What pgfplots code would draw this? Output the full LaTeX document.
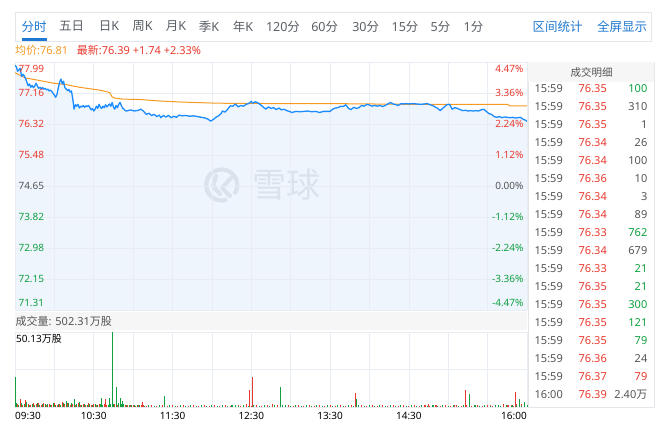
\documentclass[border=0pt]{standalone}
\usepackage{fontspec}
\setmainfont{Noto Sans}
\newfontfamily\cjk{Noto Sans CJK SC}
\usepackage{pgfplots}
\usepackage{pgfplotstable}
\pgfplotsset{compat=1.18}
\definecolor{tabblue}{HTML}{1F78D1}
\definecolor{tabgrey}{HTML}{5A5F66}
\definecolor{tabborder}{HTML}{E3E6EA}
\definecolor{upred}{HTML}{EA3A2E}
\definecolor{dngreen}{HTML}{10A040}
\definecolor{avgorange}{HTML}{F59A23}
\definecolor{lineblue}{HTML}{1A8CFF}
\definecolor{areafill}{HTML}{EEF5FD}
\definecolor{gridc}{HTML}{E8EDF3}
\definecolor{band}{HTML}{F6F6F6}
\definecolor{wm}{HTML}{DAE2EC}
\definecolor{txtgrey}{HTML}{555555}

\pgfplotstableread{
m p
0 77.90
1 77.86
2 77.74
3 77.78
4 77.82
5 77.60
6 77.66
7 77.62
8 77.55
9 77.45
10 77.35
11 77.40
12 77.31
13 77.36
14 77.30
15 77.34
16 77.42
17 77.35
18 77.28
19 77.31
20 77.27
21 77.30
22 77.26
23 77.28
24 77.24
25 77.26
26 77.21
27 77.23
28 77.20
29 77.15
30 77.10
31 77.04
32 77.12
33 77.30
34 77.45
35 77.53
36 77.40
37 77.47
38 77.30
39 77.26
40 77.22
41 77.25
42 77.18
43 77.21
44 77.00
45 76.72
46 76.84
47 76.80
48 76.85
49 76.75
50 76.80
51 76.78
52 76.82
53 76.77
54 76.81
55 76.79
56 76.82
57 76.76
58 76.70
59 76.74
60 76.67
61 76.72
62 76.80
63 76.74
64 76.85
65 76.78
66 76.74
67 76.80
68 76.76
69 76.84
70 76.78
71 76.82
72 76.86
73 76.80
74 76.90
75 76.78
76 76.72
77 76.82
78 76.76
79 76.85
80 76.90
81 76.82
82 76.75
83 76.72
84 76.68
85 76.67
88 76.70
91 76.67
94 76.69
96 76.72
98 76.66
100 76.58
102 76.61
104 76.55
106 76.58
108 76.52
110 76.56
111 76.49
113 76.55
115 76.51
117 76.55
119 76.49
121 76.53
123 76.50
125 76.56
127 76.54
130 76.55
133 76.53
136 76.54
139 76.52
142 76.50
145 76.48
147 76.45
149 76.40
151 76.44
153 76.50
155 76.54
157 76.60
158 76.67
160 76.64
162 76.72
164 76.81
166 76.80
168 76.86
170 76.78
172 76.82
174 76.80
176 76.85
178 76.87
180 76.93
181 76.88
183 76.92
185 76.89
187 76.84
189 76.78
191 76.72
193 76.78
195 76.74
197 76.76
199 76.71
201 76.75
203 76.70
205 76.72
207 76.68
209 76.66
211 76.63
214 76.66
217 76.65
220 76.66
223 76.67
226 76.65
229 76.66
232 76.63
235 76.66
238 76.66
240 76.66
242 76.72
244 76.75
246 76.76
248 76.80
250 76.79
252 76.84
254 76.74
256 76.71
258 76.77
260 76.74
262 76.76
264 76.82
266 76.80
268 76.85
270 76.83
272 76.80
274 76.82
276 76.80
278 76.82
280 76.79
282 76.82
284 76.86
286 76.90
288 76.86
290 76.84
292 76.82
294 76.87
296 76.86
298 76.87
300 76.86
303 76.87
306 76.86
309 76.85
312 76.86
314 76.87
316 76.84
318 76.82
320 76.78
322 76.74
324 76.68
325 76.72
327 76.78
329 76.84
331 76.85
333 76.72
335 76.76
337 76.74
339 76.71
341 76.68
343 76.69
345 76.67
347 76.68
349 76.67
351 76.68
353 76.67
355 76.70
357 76.72
359 76.66
361 76.60
363 76.58
365 76.52
367 76.50
369 76.52
371 76.49
373 76.51
375 76.50
377 76.49
379 76.50
381 76.48
383 76.49
385 76.50
387 76.45
389 76.42
390 76.39
}\price

\pgfplotstableread{
m a
0 77.70
8 77.56
19 77.49
29 77.42
39 77.38
49 77.31
65 77.23
72 77.17
74 77.05
76 77.02
82 76.99
95 76.98
110 76.94
128 76.91
154 76.88
200 76.87
240 76.87
270 76.86
300 76.85
375 76.85
377 76.81
390 76.81
}\avgp

\begin{document}
\begin{tikzpicture}[x=1pt,y=1pt]
\fill[white] (0,0) rectangle (656,-429);

% ---- tab bar
\draw[tabborder, line width=0.8pt] (15.7,-12.7) rectangle (651,-41);
\fill[tabblue] (21.7,-38.4) rectangle (47.3,-40.6);
\begin{scope}[every node/.style={font=\fontsize{12.5}{14}\selectfont, inner sep=0pt, text=tabgrey}]
\node[text=tabblue] at (34,-26.5) {\cjk 分时};
\node at (71.5,-26.5) {\cjk 五日};
\node at (109,-26.5) {{\cjk 日}K};
\node at (142.5,-26.5) {{\cjk 周}K};
\node at (176,-26.5) {{\cjk 月}K};
\node at (209,-26.5) {{\cjk 季}K};
\node at (243,-26.5) {{\cjk 年}K};
\node at (283,-26.5) {120{\cjk 分}};
\node at (324.7,-26.5) {60{\cjk 分}};
\node at (365.7,-26.5) {30{\cjk 分}};
\node at (405,-26.5) {15{\cjk 分}};
\node at (440.5,-26.5) {5{\cjk 分}};
\node at (473.5,-26.5) {1{\cjk 分}};
\node[text=tabblue] at (557.7,-26.5) {\cjk 区间统计};
\node[text=tabblue] at (622,-26.5) {\cjk 全屏显示};
\end{scope}

% ---- info row
\node[anchor=west, inner sep=0pt, font=\fontsize{11}{13}\selectfont, text=avgorange] at (15,-50.7) {{\cjk 均价}:76.81};
\node[anchor=west, inner sep=0pt, font=\fontsize{11}{13}\selectfont, text=upred] at (76.7,-50.7) {{\cjk 最新}:76.39 +1.74 +2.33\%};

% ---- price area fill
\begin{axis}[at={(15pt,-310pt)}, anchor=south west, scale only axis,
  width=512pt, height=248pt, xmin=0, xmax=390, ymin=71.31, ymax=77.99,
  axis line style={draw=none}, xtick=\empty, ytick=\empty]
\addplot[draw=none, fill=areafill] table[x=m, y=p] {\price} \closedcycle;
\end{axis}

% ---- watermark
\draw[wm, line width=4.2pt] (221.7,-185) ++(-35:15.5) arc[start angle=-35, end angle=290, radius=15.5];
\draw[wm, line width=4pt, line cap=round, line join=round] (216,-176) -- (213,-186) -- (220,-194);
\draw[wm, line width=4pt, line cap=round, line join=round] (231,-178) -- (222,-188) -- (230,-196);
\node[text=wm, font=\fontsize{34}{36}\selectfont\cjk, inner sep=0pt] at (286,-185) {雪球};

% ---- price lines
\begin{axis}[at={(15pt,-310pt)}, anchor=south west, scale only axis,
  width=512pt, height=248pt, xmin=0, xmax=390, ymin=71.31, ymax=77.99,
  axis line style={draw=none}, xtick={0,30,...,390},
  ytick={71.31,72.15,72.98,73.82,74.65,75.48,76.32,77.16,77.99},
  xticklabels={}, yticklabels={}, major tick length=0pt,
  grid=major, grid style={gridc, line width=0.6pt},
  every node/.append style={font=\fontsize{11}{13}\selectfont, inner sep=1pt}]
\addplot[avgorange, line width=1pt, mark=none] table[x=m, y=a] {\avgp};
\addplot[lineblue, line width=1.3pt, mark=none, line join=round] table[x=m, y=p] {\price};
\node[anchor=north west, text=upred] at (axis cs:0,77.99) {77.99};
\node[anchor=west, text=upred] at (axis cs:0,77.16) {77.16};
\node[anchor=west, text=upred] at (axis cs:0,76.32) {76.32};
\node[anchor=west, text=upred] at (axis cs:0,75.48) {75.48};
\node[anchor=west, text=txtgrey] at (axis cs:0,74.65) {74.65};
\node[anchor=west, text=dngreen] at (axis cs:0,73.82) {73.82};
\node[anchor=west, text=dngreen] at (axis cs:0,72.98) {72.98};
\node[anchor=west, text=dngreen] at (axis cs:0,72.15) {72.15};
\node[anchor=south west, text=dngreen] at (axis cs:0,71.31) {71.31};
\node[anchor=north east, text=upred] at (axis cs:390,77.99) {4.47\%};
\node[anchor=east, text=upred] at (axis cs:390,77.16) {3.36\%};
\node[anchor=east, text=upred] at (axis cs:390,76.32) {2.24\%};
\node[anchor=east, text=upred] at (axis cs:390,75.48) {1.12\%};
\node[anchor=east, text=txtgrey] at (axis cs:390,74.65) {0.00\%};
\node[anchor=east, text=dngreen] at (axis cs:390,73.82) {-1.12\%};
\node[anchor=east, text=dngreen] at (axis cs:390,72.98) {-2.24\%};
\node[anchor=east, text=dngreen] at (axis cs:390,72.15) {-3.36\%};
\node[anchor=south east, text=dngreen] at (axis cs:390,71.31) {-4.47\%};
\end{axis}

% ---- volume header band
\fill[band] (15,-312) rectangle (527,-330);
\node[anchor=west, inner sep=0pt, font=\fontsize{11}{13}\selectfont, text=txtgrey] at (15.5,-321) {{\cjk 成交量}: 502.31{\cjk 万股}};

% ---- volume
\begin{axis}[at={(15pt,-407pt)}, anchor=south west, scale only axis,
  width=512pt, height=75pt, xmin=0, xmax=390, ymin=0, ymax=50.13,
  axis line style={draw=none}, xtick={0,30,...,390}, ytick={0,25.065,50.13},
  xticklabels={}, yticklabels={}, major tick length=0pt,
  grid=major, grid style={gridc, line width=0.6pt}, clip=false,
  every node/.append style={font=\fontsize{11}{13}\selectfont, text=txtgrey}]
\addplot[ycomb, upred, line width=1pt, mark=none] coordinates {
(2,2.0)(4,5.3)(6,1.5)(8,5.0)(10,2.2)(12,1.6)(14,3.0)(16,1.8)(18,2.4)(20,1.5)(22,2.8)(24,1.4)(26,2.0)(28,1.6)(30,2.6)(32,1.4)(34,2.2)(36,3.4)(38,1.8)(40,2.5)(42,1.6)(44,2.0)(46,1.5)(48,2.4)(50,1.3)(52,2.0)(54,1.6)(56,2.8)(58,1.4)(60,1.8)(62,1.2)(64,2.0)(68,1.8)(69,5.5)(70,1.4)(76,2.0)(78,1.5)(84,1.4)(86,1.1)(88,1.6)(90,1.2)(92,1.0)(94,1.3)(96,1.1)(97,3.5)(98,1.2)
(196,2.0)(179,11.5)(181,20.3)(259,9.3)(315,2.2)(321,1.6)(343,11.5)(372,2.0)(381,10.0)(382,2.2)(386,2.0)(170,1.3)(176,1.8)(200,1.6)(313,1.5)(335,1.2)(362,1.4)(366,1.3)(375,1.6)(378,1.4)
(100,1.0)(104,1.2)(108,0.9)(112,1.1)(116,1.0)(120,1.2)(124,0.9)(128,1.1)(132,1.0)(136,1.2)(140,0.9)(144,1.1)(148,1.0)(152,1.2)(156,0.9)(160,1.1)(164,1.0)(168,1.2)(172,0.9)(176,1.1)(180,1.0)(184,1.2)(188,0.9)(192,1.1)(196,1.0)(200,1.2)(204,0.9)(208,1.1)(212,1.0)(216,1.2)(220,0.9)(224,1.1)(228,1.0)(232,1.2)(236,0.9)(240,1.1)(244,1.0)(248,1.2)(252,0.9)(256,1.1)(260,1.0)(264,1.2)(268,0.9)(272,1.1)(276,1.0)(280,1.2)(284,0.9)(288,1.1)(292,1.0)(296,1.2)(300,0.9)(304,1.1)(308,1.0)(312,1.2)(316,0.9)(320,1.1)(324,1.0)(328,1.2)(332,0.9)(336,1.1)(340,1.0)(344,1.2)(348,0.9)(352,1.1)(356,1.0)(360,1.2)(364,0.9)(368,1.1)(372,1.0)(376,1.2)(380,0.9)(384,1.1)(388,1.0)
};
\addplot[ycomb, dngreen, line width=1pt, mark=none] coordinates {
(0,19.9)(1,2.5)(3,1.6)(5,2.4)(7,1.8)(9,3.2)(11,1.4)(13,2.0)(15,1.6)(17,2.6)(19,1.5)(21,2.2)(23,1.8)(25,2.0)(27,1.4)(29,2.4)(31,1.6)(33,2.0)(35,1.4)(37,2.8)(39,4.0)(41,2.4)(43,3.0)(45,5.3)(47,2.0)(49,3.2)(51,1.6)(53,2.2)(55,1.5)(57,1.8)(59,1.4)(61,2.0)(63,1.4)(65,1.8)(66,6.0)(67,1.6)(71,1.4)(72,6.0)(73,2.0)(74,50.13)(75,2.2)(77,13.7)(79,2.4)(80,5.8)(81,1.8)(82,4.0)(83,2.2)(85,1.6)(87,1.4)(89,1.2)(91,1.4)(93,1.1)(95,1.2)(99,1.0)
(114,7.1)(168,1.6)(165,1.3)(202,13.3)(198,1.5)(204,1.4)(260,5.5)(319,1.6)(346,8.6)(351,1.3)(358,1.2)(368,1.3)(384,5.3)(388,3.5)(374,1.4)(379,1.5)
(102,1.1)(106,0.9)(110,1.2)(114,1.0)(118,1.1)(122,0.9)(126,1.2)(130,1.0)(134,1.1)(138,0.9)(142,1.2)(146,1.0)(150,1.1)(154,0.9)(158,1.2)(162,1.0)(166,1.1)(170,0.9)(174,1.2)(178,1.0)(182,1.1)(186,0.9)(190,1.2)(194,1.0)(198,1.1)(202,0.9)(206,1.2)(210,1.0)(214,1.1)(218,0.9)(222,1.2)(226,1.0)(230,1.1)(234,0.9)(238,1.2)(242,1.0)(246,1.1)(250,0.9)(254,1.2)(258,1.0)(262,1.1)(266,0.9)(270,1.2)(274,1.0)(278,1.1)(282,0.9)(286,1.2)(290,1.0)(294,1.1)(298,0.9)(302,1.2)(306,1.0)(310,1.1)(314,0.9)(318,1.2)(322,1.0)(326,1.1)(330,0.9)(334,1.2)(338,1.0)(342,1.1)(346,0.9)(350,1.2)(354,1.0)(358,1.1)(362,0.9)(366,1.2)(370,1.0)(374,1.1)(378,0.9)(382,1.2)(386,1.0)(390,1.1)
};
\node[anchor=north west, inner sep=1pt] at (axis cs:0,50.13) [yshift=-1.5pt] {50.13{\cjk 万股}};
\node[anchor=west, inner sep=0pt] at (axis cs:0,0) [yshift=-9pt] {09:30};
\node[inner sep=0pt] at (axis cs:60,0) [yshift=-9pt] {10:30};
\node[inner sep=0pt] at (axis cs:120,0) [yshift=-9pt] {11:30};
\node[inner sep=0pt] at (axis cs:180,0) [yshift=-9pt] {12:30};
\node[inner sep=0pt] at (axis cs:240,0) [yshift=-9pt] {13:30};
\node[inner sep=0pt] at (axis cs:300,0) [yshift=-9pt] {14:30};
\node[anchor=east, inner sep=0pt] at (axis cs:390,0) [yshift=-9pt] {16:00};
\end{axis}

% ---- trade detail panel
\draw[tabborder, line width=0.6pt] (528,-62) rectangle (654,-407);
\fill[band] (528.3,-62.3) rectangle (653.7,-82);
\node[text=txtgrey, font=\fontsize{10.5}{12}\selectfont\cjk, inner sep=0pt] at (591.5,-72.3) {成交明细};
\begin{scope}[every node/.style={font=\fontsize{11}{13}\selectfont, inner sep=0pt}]
\foreach \i/\t/\p/\v/\c in {
 0/15:59/76.35/100/dngreen, 1/15:59/76.35/310/txtgrey, 2/15:59/76.35/1/txtgrey,
 3/15:59/76.34/26/txtgrey, 4/15:59/76.34/100/txtgrey, 5/15:59/76.36/10/txtgrey,
 6/15:59/76.34/3/txtgrey, 7/15:59/76.34/89/txtgrey, 8/15:59/76.33/762/dngreen,
 9/15:59/76.34/679/txtgrey, 10/15:59/76.33/21/dngreen, 11/15:59/76.35/21/dngreen,
 12/15:59/76.35/300/dngreen, 13/15:59/76.35/121/dngreen, 14/15:59/76.35/79/dngreen,
 15/15:59/76.36/24/txtgrey, 16/15:59/76.37/79/upred, 17/16:00/76.39/2.40{\cjk 万}/txtgrey} {
  \node[anchor=west, text=txtgrey] at (534.5,-89-18*\i) {\t};
  \node[anchor=west, text=upred] at (578.5,-89-18*\i) {\p};
  \node[anchor=east, text=\c] at (647.5,-89-18*\i) {\v};
}
\end{scope}
\end{tikzpicture}
\end{document}
